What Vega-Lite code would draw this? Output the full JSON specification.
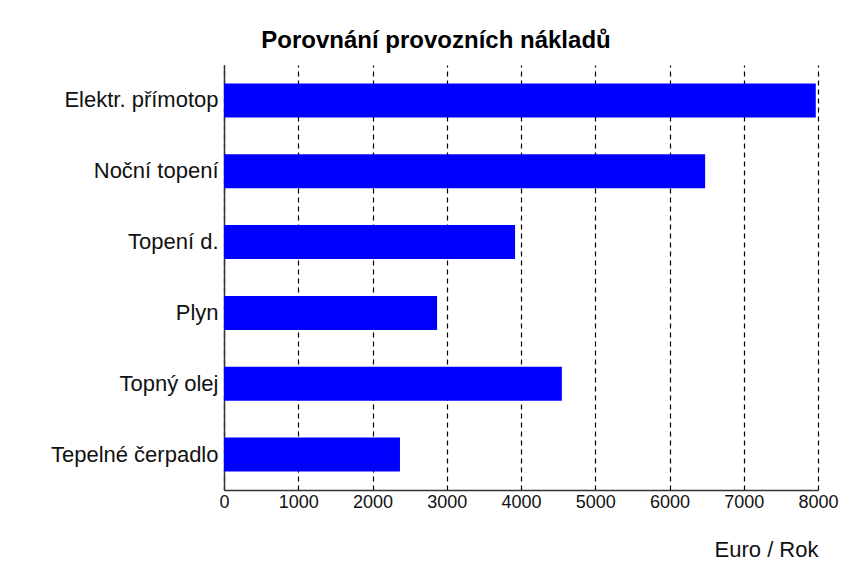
{
  "$schema": "https://vega.github.io/schema/vega-lite/v6.json",
  "width": 594,
  "height": 425,
  "autosize": {"type": "none"},
  "padding": {"left": 224, "top": 65, "right": 30, "bottom": 75},
  "background": "white",
  "title": {
    "text": "Porovnání provozních nákladů",
    "font": "Liberation Sans",
    "fontSize": 24,
    "fontWeight": "bold",
    "color": "black",
    "anchor": "middle",
    "dx": -85,
    "offset": 12
  },
  "data": {
    "values": [
      {"typ": "Elektr. přímotop", "naklady": 7970},
      {"typ": "Noční topení", "naklady": 6480},
      {"typ": "Topení d.", "naklady": 3920},
      {"typ": "Plyn", "naklady": 2870},
      {"typ": "Topný olej", "naklady": 4550},
      {"typ": "Tepelné čerpadlo", "naklady": 2370}
    ]
  },
  "mark": {"type": "bar", "color": "#0000FF"},
  "encoding": {
    "y": {
      "field": "typ",
      "type": "nominal",
      "sort": null,
      "scale": {"paddingInner": 0.52, "paddingOuter": 0.26},
      "axis": {
        "title": null,
        "ticks": false,
        "labelFont": "Liberation Sans",
        "labelFontSize": 22,
        "labelLimit": 0,
        "labelColor": "#111",
        "labelPadding": 6,
        "domainColor": "#333",
        "domainWidth": 1.5,
        "grid": false
      }
    },
    "x": {
      "field": "naklady",
      "type": "quantitative",
      "scale": {"domain": [0, 8000], "nice": false},
      "axis": {
        "title": "Euro / Rok",
        "titleFont": "Liberation Sans",
        "titleFontSize": 22,
        "titleFontWeight": "normal",
        "titleColor": "#111",
        "titleAnchor": "end",
        "titleAlign": "right",
        "titlePadding": 28,
        "values": [0, 1000, 2000, 3000, 4000, 5000, 6000, 7000, 8000],
        "format": "d",
        "labelFont": "Liberation Sans",
        "labelFontSize": 18,
        "labelColor": "#111",
        "labelPadding": 3,
        "labelFlush": false,
        "ticks": false,
        "domainColor": "#333",
        "domainWidth": 1.5,
        "grid": true,
        "gridColor": "black",
        "gridDash": [5, 4],
        "gridWidth": 1.2
      }
    }
  },
  "config": {"view": {"stroke": null}}
}
